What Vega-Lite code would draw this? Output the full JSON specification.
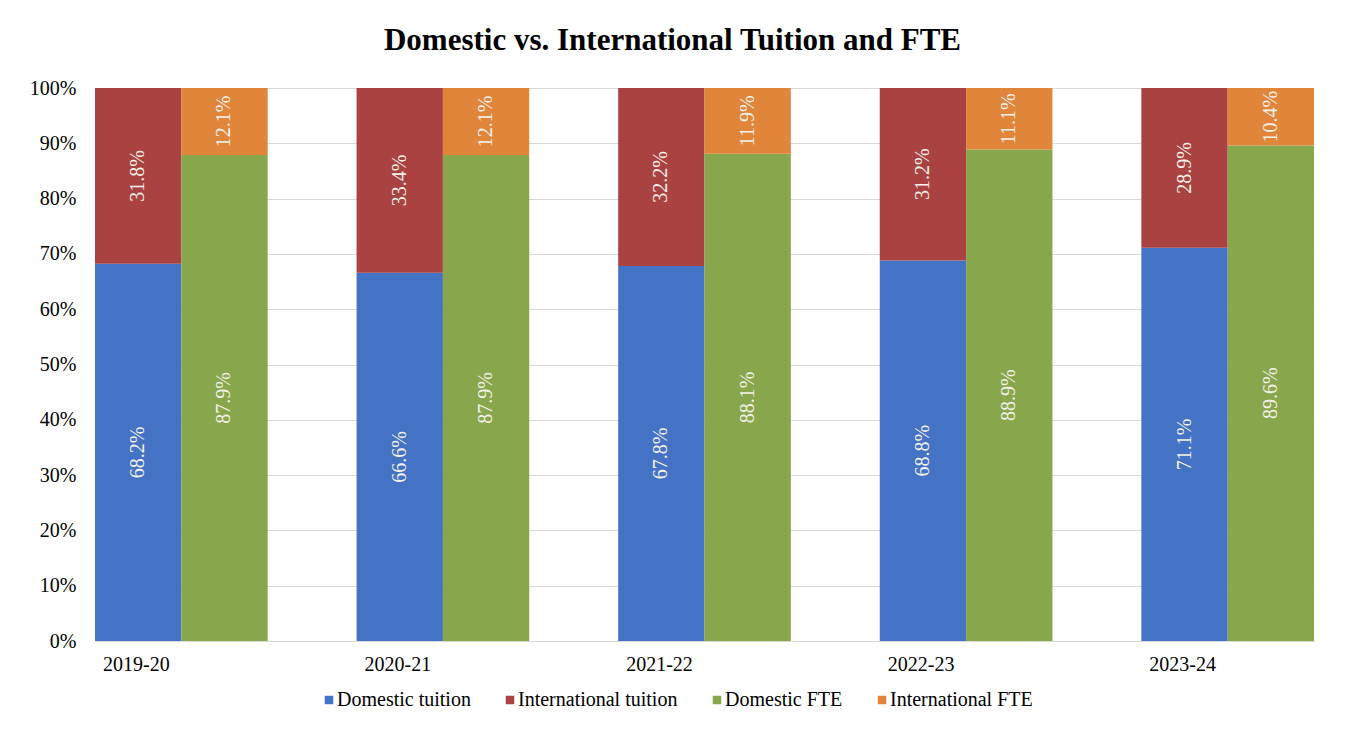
{
  "$schema": "https://vega.github.io/schema/vega-lite/v6.json",
  "width": 1219,
  "height": 553,
  "autosize": {"type": "none"},
  "padding": {"left": 95, "top": 88, "right": 32, "bottom": 89},
  "background": "white",
  "title": {
    "text": "Domestic vs. International Tuition and FTE",
    "font": "Liberation Serif",
    "fontSize": 31,
    "fontWeight": "bold",
    "color": "#000000",
    "anchor": "middle",
    "offset": 21,
    "dx": -32
  },
  "config": {
    "view": {"stroke": null},
    "font": "Liberation Serif"
  },
  "data": {
    "values": [
      {"year": "2019-20", "group": "Tuition", "series": "Domestic tuition", "value": 0.682},
      {"year": "2019-20", "group": "Tuition", "series": "International tuition", "value": 0.318},
      {"year": "2019-20", "group": "FTE", "series": "Domestic FTE", "value": 0.879},
      {"year": "2019-20", "group": "FTE", "series": "International FTE", "value": 0.121},
      {"year": "2020-21", "group": "Tuition", "series": "Domestic tuition", "value": 0.666},
      {"year": "2020-21", "group": "Tuition", "series": "International tuition", "value": 0.334},
      {"year": "2020-21", "group": "FTE", "series": "Domestic FTE", "value": 0.879},
      {"year": "2020-21", "group": "FTE", "series": "International FTE", "value": 0.121},
      {"year": "2021-22", "group": "Tuition", "series": "Domestic tuition", "value": 0.678},
      {"year": "2021-22", "group": "Tuition", "series": "International tuition", "value": 0.322},
      {"year": "2021-22", "group": "FTE", "series": "Domestic FTE", "value": 0.881},
      {"year": "2021-22", "group": "FTE", "series": "International FTE", "value": 0.119},
      {"year": "2022-23", "group": "Tuition", "series": "Domestic tuition", "value": 0.688},
      {"year": "2022-23", "group": "Tuition", "series": "International tuition", "value": 0.312},
      {"year": "2022-23", "group": "FTE", "series": "Domestic FTE", "value": 0.889},
      {"year": "2022-23", "group": "FTE", "series": "International FTE", "value": 0.111},
      {"year": "2023-24", "group": "Tuition", "series": "Domestic tuition", "value": 0.711},
      {"year": "2023-24", "group": "Tuition", "series": "International tuition", "value": 0.289},
      {"year": "2023-24", "group": "FTE", "series": "Domestic FTE", "value": 0.896},
      {"year": "2023-24", "group": "FTE", "series": "International FTE", "value": 0.104}
    ]
  },
  "transform": [
    {"stack": "value", "groupby": ["year", "group"], "sort": [{"field": "series", "order": "ascending"}], "as": ["v0", "v1"]}
  ],
  "encoding": {
    "x": {
      "field": "year",
      "type": "nominal",
      "scale": {"paddingInner": 0.34, "paddingOuter": 0},
      "axis": {
        "title": null,
        "labelAngle": 0,
        "labelFont": "Liberation Serif",
        "labelFontSize": 20,
        "labelColor": "#000000",
        "labelOffset": -45,
        "labelPadding": 13,
        "ticks": false,
        "domainColor": "#D9D9D9",
        "domainWidth": 1
      }
    },
    "xOffset": {
      "field": "group",
      "type": "nominal",
      "sort": ["Tuition", "FTE"],
      "scale": {"paddingInner": 0, "paddingOuter": 0}
    }
  },
  "layer": [
    {
      "mark": {"type": "bar"},
      "encoding": {
        "y": {
          "field": "v0",
          "type": "quantitative",
          "scale": {"domain": [0, 1], "nice": false},
          "axis": {
            "title": null,
            "format": ".0%",
            "tickCount": 10,
            "labelFont": "Liberation Serif",
            "labelFontSize": 20,
            "labelColor": "#000000",
            "labelPadding": 19,
            "ticks": false,
            "domain": false,
            "gridColor": "#D9D9D9",
            "gridWidth": 1
          }
        },
        "y2": {"field": "v1"},
        "color": {
          "field": "series",
          "type": "nominal",
          "scale": {
            "domain": ["Domestic tuition", "International tuition", "Domestic FTE", "International FTE"],
            "range": ["#4472C4", "#A94240", "#88A64B", "#E0853A"]
          },
          "legend": {
            "title": null,
            "orient": "none",
            "direction": "horizontal",
            "legendX": 224,
            "legendY": 602,
            "symbolType": "square",
            "symbolSize": 72,
            "symbolStrokeWidth": 0,
            "labelFont": "Liberation Serif",
            "labelFontSize": 20,
            "labelColor": "#000000",
            "columnPadding": 29,
            "labelOffset": -2
          }
        }
      }
    },
    {
      "transform": [
        {"fold": ["v0", "v1"], "as": ["edge", "pos"]},
        {"aggregate": [{"op": "mean", "field": "pos", "as": "mid"}], "groupby": ["year", "group", "series", "value"]}
      ],
      "mark": {
        "type": "text",
        "angle": 270,
        "align": "center",
        "baseline": "middle",
        "font": "Liberation Serif",
        "fontSize": 20,
        "color": "#F4F1EA"
      },
      "encoding": {
        "y": {"field": "mid", "type": "quantitative"},
        "text": {"field": "value", "type": "quantitative", "format": ".1%"}
      }
    }
  ]
}
